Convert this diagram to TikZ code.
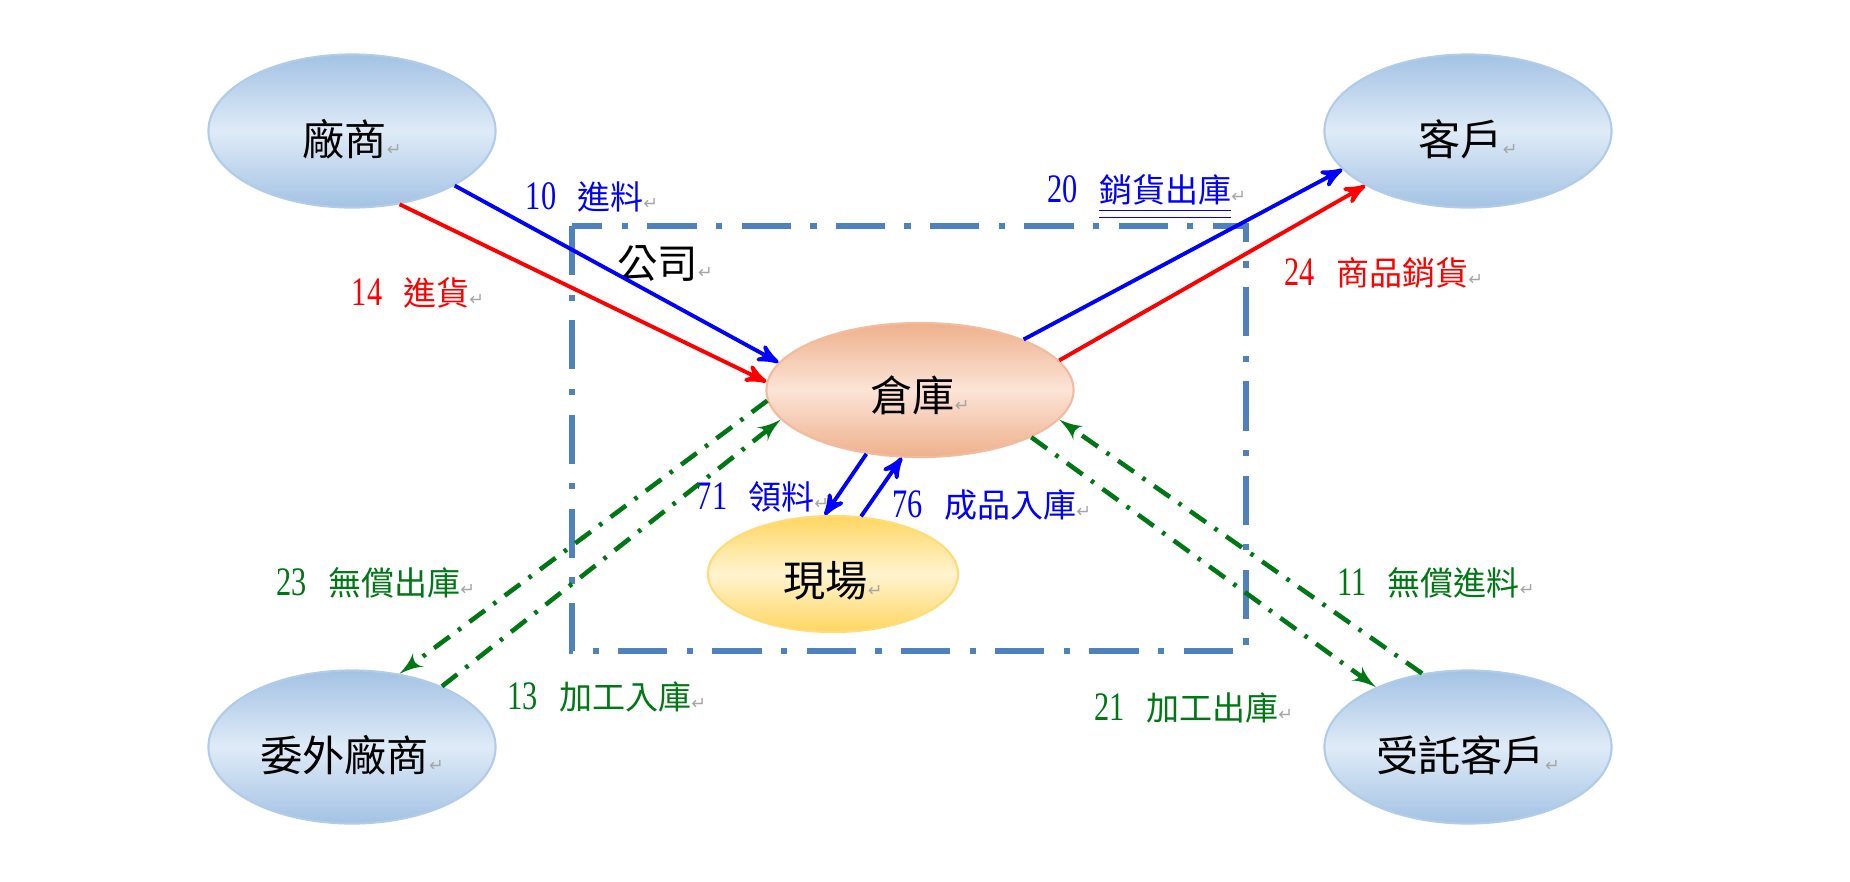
\documentclass[tikz,border=0pt]{standalone}
\usepackage{fontspec}
\setmainfont{Liberation Serif}
\newfontfamily\cjk{Noto Sans CJK TC}
\newfontfamily\retfont{DejaVu Sans}
\usepackage{tikz}
\usetikzlibrary{arrows}
\usetikzlibrary{shapes.geometric}

\definecolor{partytop}{RGB}{163,194,228}
\definecolor{partymid}{RGB}{223,235,247}
\definecolor{storetop}{RGB}{239,176,140}
\definecolor{storemid}{RGB}{251,228,214}
\definecolor{sitetop}{RGB}{255,214,96}
\definecolor{sitemid}{RGB}{255,244,208}
\definecolor{boxblue}{RGB}{79,129,189}
\definecolor{flowgreen}{RGB}{0,118,20}
\definecolor{flowblue}{RGB}{0,0,255}
\definecolor{flowred}{RGB}{255,0,0}

\newcommand{\ret}{{\retfont\fontsize{5}{5}\selectfont\textcolor{black!35}{↵}}}
\newcommand{\lblnum}[1]{\scalebox{0.75}[1]{\rmfamily\fontsize{11.5}{12}\selectfont #1}\hspace{6pt}}

\begin{document}
\begin{tikzpicture}[x=0.01cm,y=-0.01cm,->,>=stealth',thick,
    party node/.style={ellipse,shade,top color=partytop,bottom color=partytop,middle color=partymid,draw=partytop!85,line width=0.6pt,minimum width=2.87cm,minimum height=1.53cm,inner sep=0pt,text height=15pt,font=\fontsize{12}{14}\selectfont\cjk},
    store node/.style={ellipse,shade,top color=storetop,bottom color=storetop,middle color=storemid,draw=storetop!85,line width=0.6pt,minimum width=3.07cm,minimum height=1.34cm,inner sep=0pt,text height=13pt,font=\fontsize{12}{14}\selectfont\cjk},
    site node/.style={ellipse,shade,top color=sitetop,bottom color=sitetop,middle color=sitemid,draw=sitetop!85,line width=0.6pt,minimum width=2.5cm,minimum height=1.16cm,inner sep=0pt,text height=14pt,font=\fontsize{12}{14}\selectfont\cjk},
    flow label/.style={inner sep=0pt,font=\fontsize{9.4}{10}\selectfont\cjk},
    solid flow/.style={line width=1.1pt},
    green flow/.style={flowgreen,line width=1.3pt,>=latex',->,dash pattern=on 5.5pt off 3pt on 1pt off 3pt},
    company box/.style={-,boxblue,line width=1.5pt,dash pattern=on 14pt off 5.5pt on 1.8pt off 5.5pt}]
  \useasboundingbox (0,0) rectangle (1850,881);
  % company frame
  \draw[company box] (572,226) rectangle (1246,651);
  \node[inner sep=0pt,font=\fontsize{11.5}{12}\selectfont\cjk] (company) at (665,263) {公司\ret};
  % parties
  \node[party node] (supplier) at (352,131) {廠商\ret};
  \node[party node] (customer) at (1468,131) {客戶\ret};
  \node[party node] (outsrc) at (352,747) {委外廠商\ret};
  \node[party node] (consign) at (1468,747) {受託客戶\ret};
  \node[store node] (wh) at (920,390) {倉庫\ret};
  \node[site node] (site) at (833,574) {現場\ret};
  % labels
  \node[flow label,flowblue] (in10) at (592,197) {\lblnum{10}進料\ret};
  \node[flow label,flowred] (in14) at (418,293) {\lblnum{14}進貨\ret};
  \node[flow label,flowblue] (out20) at (1147,197) {\lblnum{20}\underline{\underline{銷貨出庫}}\ret};
  \node[flow label,flowred] (out24) at (1384,273) {\lblnum{24}商品銷貨\ret};
  \node[flow label,flowgreen] (out23) at (376,583) {\lblnum{23}無償出庫\ret};
  \node[flow label,flowgreen] (in13) at (607,697) {\lblnum{13}加工入庫\ret};
  \node[flow label,flowgreen] (in11) at (1436,583) {\lblnum{11}無償進料\ret};
  \node[flow label,flowgreen] (out21) at (1194,708) {\lblnum{21}加工出庫\ret};
  \node[flow label,flowblue] (out71) at (763,497) {\lblnum{71}領料\ret};
  \node[flow label,flowblue] (in76) at (992,505) {\lblnum{76}成品入庫\ret};
  % flows
  \path[solid flow,flowblue] (supplier.-28) edge (wh.169);
  \path[solid flow,flowred] (supplier.-57) edge (wh.177);
  \path[solid flow,flowblue] (wh.26) edge (customer.197);
  \path[solid flow,flowred] (wh.12) edge (customer.208);
  \path[green flow] (wh.184) edge (outsrc.57);
  \path[green flow] (outsrc.34) edge (wh.192);
  \path[green flow] (consign.122) edge (wh.-12);
  \path[green flow] (wh.-23) edge (consign.147);
  \path[solid flow,flowblue] (wh.230) edge (site.98);
  \path[solid flow,flowblue] (site.64) edge (wh.255);
\end{tikzpicture}
\end{document}
